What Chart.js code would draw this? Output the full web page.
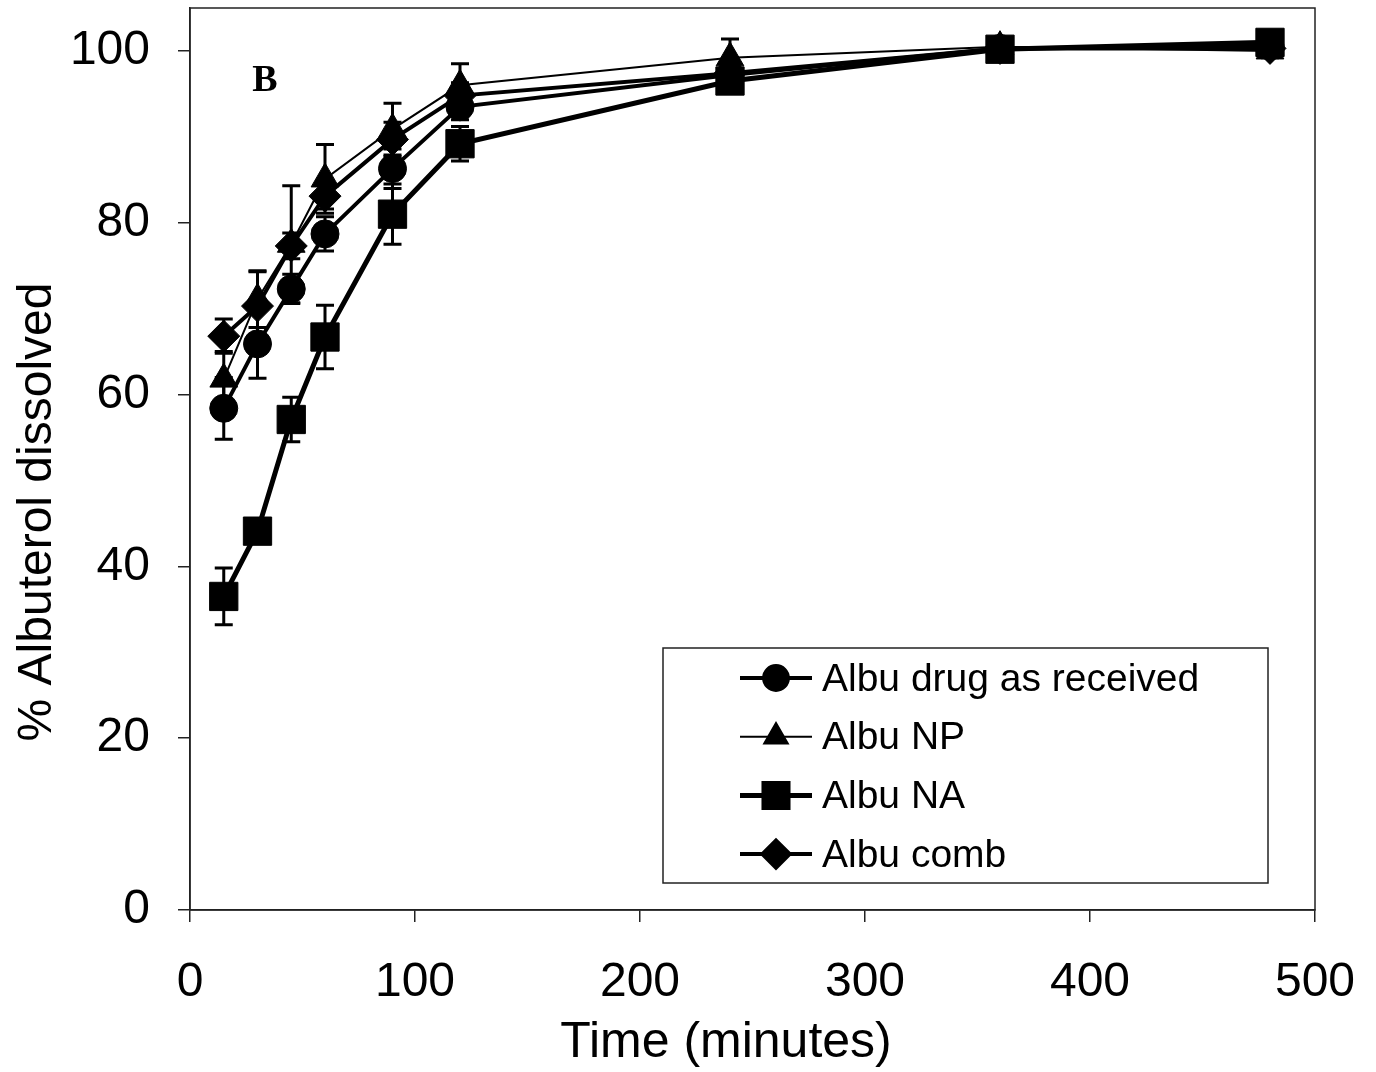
<!DOCTYPE html>
<html>
<head>
<meta charset="utf-8">
<script src="https://cdn.jsdelivr.net/npm/chart.js@4.4.0/dist/chart.umd.min.js"></script>
<style>
  body { margin: 0; background: #fff; }
  #wrap { width: 1376px; height: 1072px; position: relative; }
</style>
</head>
<body>
<div id="wrap"><canvas id="dissolution"></canvas></div>
<script>
// sampling times (minutes)
const times = [15, 30, 45, 60, 90, 120, 240, 360, 480];

// % albuterol dissolved
const drugAsReceived = [58.4, 65.9, 72.3, 78.7, 86.3, 93.5, 97.2, 100.3, 100.6];
const drugAsReceivedErr = [3.6, 4.0, 1.7, 2.0, 2.3, 1.5, 1.0, 1.0, 1.0];
const albuNP = [61.8, 71.1, 77.5, 85.1, 90.9, 96.0, 99.2, 100.5, 100.0];
const albuNPErr = [3.2, 3.3, 6.8, 4.0, 3.0, 2.5, 2.2, 1.0, 0.8];
const albuNA = [36.5, 44.1, 57.1, 66.7, 81.0, 89.2, 96.5, 100.2, 101.0];
const albuNAErr = [3.3, 1.0, 2.6, 3.7, 3.5, 2.0, 1.0, 1.0, 1.0];
const albuComb = [66.8, 70.3, 77.3, 83.1, 89.7, 94.8, 97.4, 100.3, 100.3];
const albuCombErr = [2.0, 4.0, 1.5, 1.5, 2.0, 1.5, 1.0, 1.0, 1.0];

const seriesNames = ["Albu drug as received", "Albu NP", "Albu NA", "Albu comb"];
const xTicks = [0, 100, 200, 300, 400, 500];
const yTicks = [0, 20, 40, 60, 80, 100];
const xTitle = "Time (minutes)";
const yTitle = "% Albuterol dissolved";

function toPoints(ys) {
    return times.map((t, i) => ({x: t, y: ys[i]}));
}

function makeSet(label, ys, errs, style, radius, width) {
    return {
        label: label,
        data: toPoints(ys),
        errors: errs,
        borderColor: "#000",
        backgroundColor: "#000",
        borderWidth: width,
        pointStyle: style,
        pointRadius: radius,
        pointHoverRadius: radius,
        pointBorderWidth: 1,
        pointBackgroundColor: "#000",
        pointBorderColor: "#000",
        tension: 0,
        clip: false
    };
}

// error bars under the markers
const errorBars = {
    id: "errorBars",
    beforeDatasetsDraw(chart) {
        const ctx = chart.ctx;
        const ys = chart.scales.y;
        ctx.save();
        ctx.strokeStyle = "#000";
        ctx.lineWidth = 3;
        chart.data.datasets.forEach((ds, di) => {
            const meta = chart.getDatasetMeta(di);
            meta.data.forEach((pt, i) => {
                const v = ds.data[i].y, e = ds.errors[i];
                const top = ys.getPixelForValue(v + e);
                const bot = ys.getPixelForValue(v - e);
                ctx.beginPath();
                ctx.moveTo(pt.x, top); ctx.lineTo(pt.x, bot);
                ctx.moveTo(pt.x - 9, top); ctx.lineTo(pt.x + 9, top);
                ctx.moveTo(pt.x - 9, bot); ctx.lineTo(pt.x + 9, bot);
                ctx.stroke();
            });
        });
        ctx.restore();
    }
};

// box around the plot, axis titles, the "B" panel letter and the boxed legend
const decorations = {
    id: "decorations",
    afterDraw(chart) {
        const ctx = chart.ctx;
        const a = chart.chartArea;
        ctx.save();
        ctx.strokeStyle = "#222";
        ctx.lineWidth = 1.5;
        ctx.strokeRect(a.left, a.top, a.right - a.left, a.bottom - a.top);

        ctx.fillStyle = "#000";
        ctx.textAlign = "center";
        ctx.textBaseline = "middle";
        ctx.font = "50px 'Liberation Sans', Arial, sans-serif";
        ctx.fillText(xTitle, 726, 1043);
        ctx.font = "48px 'Liberation Sans', Arial, sans-serif";
        ctx.save();
        ctx.translate(38, 512);
        ctx.rotate(-Math.PI / 2);
        ctx.fillText(yTitle, 0, 0);
        ctx.restore();

        ctx.font = "bold 38px 'Liberation Serif', 'Times New Roman', serif";
        ctx.fillText("B", 265, 81);

        // legend
        const lx = 663, ly = 648, lw = 605, lh = 235;
        ctx.lineWidth = 1.5;
        ctx.strokeStyle = "#222";
        ctx.strokeRect(lx, ly, lw, lh);
        ctx.font = "39px 'Liberation Sans', Arial, sans-serif";
        ctx.textAlign = "left";
        chart.data.datasets.forEach((ds, i) => {
            const cy = ly + 30 + i * 58.7;
            ctx.strokeStyle = "#000";
            ctx.lineWidth = ds.borderWidth;
            ctx.beginPath();
            ctx.moveTo(lx + 77, cy); ctx.lineTo(lx + 149, cy);
            ctx.stroke();
            ctx.fillStyle = "#000";
            Chart.helpers.drawPoint(ctx, {
                pointStyle: ds.pointStyle,
                radius: ds.pointRadius * 0.85,
                rotation: 0,
                borderWidth: 1
            }, lx + 113, cy);
            ctx.fillStyle = "#000";
            ctx.fillText(ds.label, lx + 159, cy + 2);
        });
        ctx.restore();
    }
};

const tickFont = {family: "'Liberation Sans', Arial, sans-serif", size: 48};

new Chart(document.getElementById("dissolution"), {
    type: "line",
    data: {
        datasets: [
            makeSet(seriesNames[0], drugAsReceived, drugAsReceivedErr, "circle", 14, 4),
            makeSet(seriesNames[1], albuNP, albuNPErr, "triangle", 16, 2),
            makeSet(seriesNames[2], albuNA, albuNAErr, "rect", 20, 5),
            makeSet(seriesNames[3], albuComb, albuCombErr, "rectRot", 16, 4)
        ]
    },
    options: {
        responsive: true,
        maintainAspectRatio: false,
        animation: false,
        events: [],
        layout: {autoPadding: false, padding: {top: 8, right: 61, left: 0, bottom: 0}},
        plugins: {
            legend: {display: false},
            tooltip: {enabled: false}
        },
        scales: {
            x: {
                type: "linear",
                min: 0,
                max: 500,
                afterBuildTicks: (s) => { s.ticks = xTicks.map(v => ({value: v})); },
                afterFit: (s) => { s.height = 162; s.paddingLeft = 0; s.paddingRight = 0; },
                ticks: {color: "#000", font: tickFont, padding: 32, maxRotation: 0},
                grid: {drawOnChartArea: false, drawTicks: true, tickLength: 12, color: "#222", lineWidth: 1.5},
                border: {display: true, color: "#222", width: 1.5}
            },
            y: {
                type: "linear",
                min: 0,
                max: 105,
                afterBuildTicks: (s) => { s.ticks = yTicks.map(v => ({value: v})); },
                afterFit: (s) => { s.width = 190; s.paddingTop = 0; s.paddingBottom = 0; },
                ticks: {color: "#000", font: tickFont, padding: 28},
                grid: {drawOnChartArea: false, drawTicks: true, tickLength: 12, color: "#222", lineWidth: 1.5},
                border: {display: true, color: "#222", width: 1.5}
            }
        }
    },
    plugins: [errorBars, decorations]
});
</script>
</body>
</html>
